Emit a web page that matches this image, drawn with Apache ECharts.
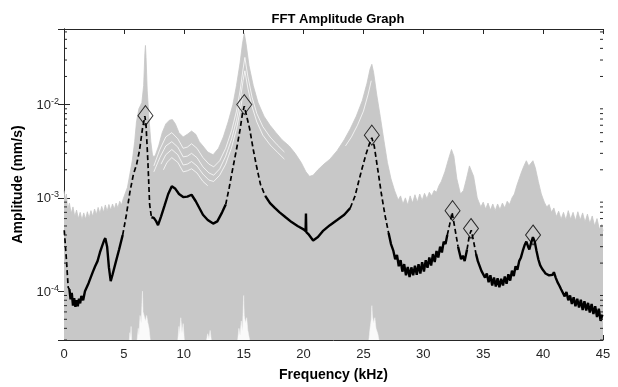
<!DOCTYPE html>
<html><head><meta charset="utf-8">
<script src="https://cdn.jsdelivr.net/npm/echarts@6/dist/echarts.min.js"></script>
<style>html,body{margin:0;padding:0;background:#fff}#c{width:618px;height:387px}</style>
</head><body><div id="c"></div>
<script>
// ---------- data ----------
var xTicks = [0,5,10,15,20,25,30,35,40,45];
// upper envelope of the grey bundle of traces
var envF = [0,0.1,0.2,0.3,0.45,0.6,0.75,0.9,1.05,1.2,1.35,1.5,1.65,1.8,1.95,2.1,2.25,2.4,2.55,2.7,2.85,3.0,3.15,3.3,3.45,3.6,3.75,3.9,4.05,4.2,4.35,4.5,4.65,4.8,4.95,5.1,5.3,5.5,5.7,5.9,6.05,6.25,6.5,6.65,6.75,6.8,6.85,6.95,7.1,7.25,7.4,7.6,7.9,8.2,8.5,8.8,9.05,9.3,9.6,9.95,10.3,10.65,11.0,11.3,11.6,12.0,12.45,12.9,13.3,13.7,14.1,14.4,14.7,14.9,15.05,15.2,15.45,15.8,16.2,16.7,17.2,17.7,18.2,18.8,19.3,19.8,20.2,20.5,20.8,21.2,21.7,22.2,22.8,23.4,23.9,24.4,24.9,25.3,25.55,25.7,25.85,26.1,26.4,26.7,27.0,27.3,27.6,27.9,28.1,28.3,28.5,28.7,28.9,29.1,29.3,29.5,29.7,29.9,30.1,30.3,30.5,30.7,30.9,31.1,31.3,31.5,31.8,32.1,32.35,32.55,32.8,33.1,33.35,33.6,33.85,34.0,34.2,34.5,34.8,35.0,35.2,35.4,35.6,35.8,36.0,36.2,36.4,36.6,36.8,37.0,37.2,37.4,37.6,37.8,38.0,38.2,38.4,38.6,38.8,38.95,39.15,39.35,39.6,39.85,40.1,40.3,40.5,40.7,40.9,41.1,41.3,41.5,41.7,41.9,42.1,42.3,42.5,42.7,42.9,43.1,43.3,43.5,43.7,43.9,44.1,44.3,44.5,44.7,44.9,45.0];
var envV = [1.2e-3,9.5e-4,1.1e-3,7.5e-4,8.8e-4,6.8e-4,8.0e-4,6.3e-4,7.4e-4,6.0e-4,7.0e-4,5.8e-4,6.9e-4,5.9e-4,7.1e-4,6.1e-4,7.3e-4,6.3e-4,7.6e-4,6.6e-4,7.9e-4,6.8e-4,8.1e-4,7.0e-4,8.4e-4,7.2e-4,8.5e-4,7.4e-4,8.6e-4,7.6e-4,8.8e-4,7.8e-4,9.2e-4,8.4e-4,9.8e-4,1.0e-3,1.3e-3,1.8e-3,2.5e-3,4.0e-3,6.5e-3,9.0e-3,1.05e-2,1.6e-2,3.5e-2,4.3e-2,3.2e-2,1.4e-2,7.0e-3,4.0e-3,2.8e-3,2.8e-3,3.6e-3,5.0e-3,6.2e-3,6.8e-3,6.9e-3,6.2e-3,5.0e-3,4.5e-3,4.8e-3,5.2e-3,4.8e-3,4.0e-3,3.6e-3,3.1e-3,2.9e-3,3.4e-3,4.5e-3,6.5e-3,1.0e-2,1.6e-2,2.8e-2,4.5e-2,5.8e-2,4.5e-2,2.6e-2,1.6e-2,1.05e-2,7.5e-3,6.0e-3,5.0e-3,4.2e-3,3.6e-3,3.0e-3,2.4e-3,1.9e-3,1.7e-3,1.75e-3,2.0e-3,2.3e-3,2.6e-3,3.2e-3,4.2e-3,5.5e-3,7.5e-3,1.1e-2,1.7e-2,2.4e-2,2.7e-2,2.2e-2,1.3e-2,7.5e-3,4.2e-3,2.4e-3,1.6e-3,1.2e-3,9.5e-4,1.05e-3,8.6e-4,1.0e-3,8.4e-4,1.05e-3,8.8e-4,1.08e-3,9.0e-4,1.1e-3,9.4e-4,1.12e-3,9.8e-4,1.15e-3,1.05e-3,1.2e-3,1.15e-3,1.35e-3,1.5e-3,1.9e-3,2.6e-3,3.3e-3,2.8e-3,1.6e-3,1.1e-3,1.2e-3,1.6e-3,2.2e-3,2.3e-3,1.7e-3,1.0e-3,8.0e-4,9.0e-4,7.6e-4,8.8e-4,7.4e-4,8.6e-4,7.3e-4,8.6e-4,7.5e-4,8.8e-4,7.8e-4,9.2e-4,8.5e-4,1.0e-3,1.1e-3,1.35e-3,1.6e-3,1.9e-3,2.2e-3,2.5e-3,2.2e-3,2.3e-3,2.5e-3,2.1e-3,1.5e-3,1.1e-3,9.0e-4,8.0e-4,8.5e-4,7.0e-4,7.8e-4,6.3e-4,7.2e-4,5.9e-4,7.0e-4,5.8e-4,7.3e-4,5.9e-4,7.0e-4,5.7e-4,7.1e-4,5.8e-4,6.9e-4,5.5e-4,6.7e-4,5.3e-4,6.4e-4,5.0e-4,6.0e-4,4.6e-4,5.2e-4,4.4e-4];

// light separations between individual traces inside the grey bundle (null = break)
var sepF = [7.5,8.0,8.5,9.0,9.5,9.95,10.3,10.65,11.1,11.6,12.1,12.5,13.0,13.5,14.0,14.4,14.7,14.95,15.1,15.35,15.7,16.1,16.6,17.2,17.8,18.4,null,
            7.5,8.0,8.5,9.0,9.5,9.95,10.3,10.65,11.1,11.6,12.1,12.5,13.0,13.5,14.0,14.4,14.7,14.95,15.1,15.35,15.7,16.1,16.6,17.2,17.8,18.4,null,
            8.1,8.5,9.0,9.5,9.95,10.3,10.65,11.1,11.6,12.1,12.5,13.0,13.5,14.0,14.4,14.7,14.95,null,
            8.3,8.6,9.0,9.5,9.95,10.3,10.65,11.1,11.6,12.0,null,
            23.5,24.0,24.5,25.0,25.4,25.65];
var sepV = [2.2e-3,3.3e-3,4.5e-3,5.0e-3,4.3e-3,3.4e-3,3.5e-3,3.8e-3,3.4e-3,2.7e-3,2.3e-3,2.15e-3,2.5e-3,3.4e-3,5.3e-3,8.5e-3,1.4e-2,2.4e-2,3.2e-2,2.0e-2,1.2e-2,8.0e-3,5.8e-3,4.5e-3,3.7e-3,3.1e-3,null,
            1.9e-3,2.7e-3,3.6e-3,4.0e-3,3.5e-3,2.75e-3,2.8e-3,3.0e-3,2.7e-3,2.15e-3,1.85e-3,1.75e-3,2.05e-3,2.8e-3,4.3e-3,6.8e-3,1.1e-2,1.8e-2,2.3e-2,1.5e-2,9.5e-3,6.5e-3,4.7e-3,3.7e-3,3.1e-3,2.6e-3,null,
            2.3e-3,2.9e-3,3.3e-3,2.9e-3,2.25e-3,2.3e-3,2.45e-3,2.2e-3,1.8e-3,1.55e-3,1.5e-3,1.75e-3,2.3e-3,3.5e-3,5.5e-3,8.5e-3,1.3e-2,null,
            2.0e-3,2.4e-3,2.7e-3,2.4e-3,1.9e-3,1.95e-3,2.05e-3,1.85e-3,1.5e-3,1.35e-3,null,
            3.6e-3,4.5e-3,6.0e-3,8.5e-3,1.3e-2,1.8e-2];

// white gaps at the bottom of the grey bundle (null = no gap)
var gapF = [5.45,5.5,5.55,5.6,5.65,null,6.1,6.2,6.25,6.35,6.45,6.5,6.55,6.6,6.7,6.8,6.9,7.0,7.1,7.2,null,9.5,9.6,9.65,9.75,9.85,9.95,10.05,null,11.9,12.0,12.1,12.2,12.3,null,14.5,14.6,14.7,14.8,14.9,14.95,15.0,15.05,15.15,15.25,15.35,15.5,null,25.45,25.55,25.65,25.7,25.75,25.85,25.95,26.05,26.2,26.3];
var gapV = [3.0e-5,3.6e-5,3.2e-5,4.2e-5,3.0e-5,null,3.0e-5,4.0e-5,3.4e-5,5.5e-5,4.6e-5,7.0e-5,1.0e-4,6.0e-5,5.4e-5,4.8e-5,5.5e-5,4.6e-5,4.0e-5,3.0e-5,null,3.0e-5,4.2e-5,3.5e-5,5.2e-5,3.6e-5,4.5e-5,3.0e-5,null,3.0e-5,3.5e-5,3.1e-5,3.8e-5,3.0e-5,null,3.0e-5,4.0e-5,3.4e-5,4.8e-5,3.8e-5,6.0e-5,9.0e-5,5.5e-5,4.6e-5,5.2e-5,3.8e-5,3.0e-5,null,3.0e-5,4.0e-5,5.0e-5,7.0e-5,5.4e-5,4.6e-5,5.2e-5,4.0e-5,3.5e-5,3.0e-5];

// black mean curve
var meanF = [0.02,0.2,0.35,0.45,0.55,0.65,0.75,0.85,0.95,1.05,1.15,1.25,1.35,1.45,1.6,1.75,1.9,2.05,2.2,2.4,2.6,2.8,3.0,3.2,3.35,3.45,3.6,3.75,3.9,4.05,4.3,4.6,4.9,5.2,5.5,5.8,6.05,6.3,6.55,6.75,6.85,7.0,7.15,7.3,7.5,7.7,7.85,8.1,8.4,8.7,9.0,9.3,9.6,9.95,10.3,10.65,11.0,11.3,11.6,12.0,12.45,12.8,13.2,13.5,13.8,14.1,14.4,14.7,14.9,15.05,15.2,15.5,15.8,16.1,16.4,16.8,17.2,17.6,18.0,18.5,19.0,19.5,20.0,20.17,20.2,20.23,20.4,20.8,21.2,21.6,22.2,22.8,23.4,23.9,24.3,24.6,24.9,25.2,25.5,25.7,25.9,26.2,26.5,26.8,27.1,27.3,27.5,27.65,27.8,27.95,28.1,28.25,28.4,28.55,28.7,28.85,29.0,29.15,29.3,29.45,29.6,29.75,29.9,30.05,30.2,30.35,30.5,30.65,30.8,30.95,31.1,31.25,31.4,31.55,31.7,31.85,32.0,32.2,32.4,32.6,32.9,33.15,33.3,33.45,33.65,33.85,34.0,34.2,34.4,34.55,34.7,34.85,35.0,35.15,35.3,35.45,35.6,35.75,35.9,36.05,36.2,36.35,36.5,36.65,36.8,36.95,37.1,37.25,37.4,37.55,37.7,37.85,38.0,38.15,38.3,38.45,38.6,38.75,38.85,39.0,39.15,39.3,39.45,39.6,39.75,39.9,40.05,40.2,40.35,40.5,40.65,40.8,40.9,41.05,41.2,41.35,41.5,41.65,41.8,41.95,42.1,42.25,42.4,42.55,42.7,42.85,43.0,43.15,43.3,43.45,43.6,43.75,43.9,44.05,44.2,44.35,44.5,44.65,44.8,44.95];
var meanV = [4.5e-4,2.2e-4,1.1e-4,1.05e-4,8.2e-5,9.6e-5,7.0e-5,8.4e-5,6.8e-5,8.0e-5,6.9e-5,8.3e-5,7.4e-5,8.9e-5,8.0e-5,1.0e-4,9.6e-5,1.22e-4,1.28e-4,1.6e-4,1.85e-4,2.1e-4,2.6e-4,3.1e-4,3.5e-4,3.7e-4,3.0e-4,1.8e-4,1.28e-4,1.5e-4,2.0e-4,2.8e-4,4.0e-4,6.5e-4,1.15e-3,1.8e-3,2.25e-3,3.2e-3,5.5e-3,7.5e-3,6.0e-3,2.5e-3,8.5e-4,6.2e-4,6.1e-4,5.6e-4,5.1e-4,6.3e-4,8.3e-4,1.1e-3,1.33e-3,1.25e-3,1.1e-3,1.02e-3,1.03e-3,1.08e-3,9.2e-4,7.8e-4,6.6e-4,5.8e-4,5.3e-4,5.6e-4,7.0e-4,8.5e-4,1.3e-3,2.1e-3,3.3e-3,5.4e-3,8.0e-3,9.6e-3,8.0e-3,5.5e-3,3.3e-3,2.1e-3,1.4e-3,1.05e-3,8.8e-4,7.8e-4,7.0e-4,6.2e-4,5.5e-4,5.0e-4,4.6e-4,4.4e-4,6.8e-4,4.3e-4,4.1e-4,3.5e-4,3.8e-4,4.4e-4,5.1e-4,5.8e-4,6.6e-4,7.8e-4,1.05e-3,1.5e-3,2.1e-3,2.9e-3,3.8e-3,4.4e-3,3.6e-3,2.0e-3,1.1e-3,6.5e-4,4.2e-4,3.2e-4,2.7e-4,2.2e-4,2.45e-4,1.85e-4,2.15e-4,1.62e-4,1.95e-4,1.48e-4,1.82e-4,1.42e-4,1.8e-4,1.48e-4,1.88e-4,1.5e-4,1.95e-4,1.55e-4,2.05e-4,1.62e-4,2.15e-4,1.78e-4,2.3e-4,1.88e-4,2.5e-4,2.05e-4,2.7e-4,2.3e-4,3.0e-4,2.6e-4,3.4e-4,3.2e-4,4.0e-4,5.2e-4,7.0e-4,5.0e-4,3.0e-4,2.2e-4,2.4e-4,2.1e-4,2.8e-4,4.0e-4,4.5e-4,3.4e-4,2.5e-4,2.1e-4,2.0e-4,1.65e-4,1.68e-4,1.4e-4,1.55e-4,1.25e-4,1.48e-4,1.15e-4,1.4e-4,1.12e-4,1.38e-4,1.1e-4,1.36e-4,1.15e-4,1.44e-4,1.2e-4,1.52e-4,1.3e-4,1.66e-4,1.45e-4,1.85e-4,1.7e-4,2.1e-4,2.3e-4,2.7e-4,3.1e-4,3.4e-4,3.0e-4,2.8e-4,3.3e-4,3.8e-4,3.4e-4,2.7e-4,2.2e-4,1.9e-4,1.75e-4,1.65e-4,1.55e-4,1.6e-4,1.48e-4,1.55e-4,1.5e-4,1.6e-4,1.4e-4,1.25e-4,1.15e-4,1.05e-4,1.0e-4,8.8e-5,9.8e-5,8.0e-5,9.0e-5,7.3e-5,8.6e-5,6.9e-5,8.3e-5,6.7e-5,8.1e-5,6.3e-5,7.8e-5,6.2e-5,7.5e-5,5.9e-5,7.3e-5,5.7e-5,6.9e-5,5.3e-5,6.5e-5,4.8e-5,5.6e-5];
// frequency spans where the black curve is drawn with separated dots (dashed look)
var dashedSpans = [[0,0.4],[4.95,7.2],[13.75,16.45],[24.2,26.9],[32.1,32.75],[33.7,34.25]];

// identified peaks (diamonds)
var peakF = [6.8,15.05,25.7,32.44,33.98,39.16];
var peakV = [7.6e-3,1.0e-2,4.7e-3,7.3e-4,4.7e-4,4.0e-4];

var yMin = 3e-5, yMax = 0.0645;

// ---------- build ----------
function pairs(f, v){ var o=[]; for (var i=0;i<f.length;i++){ o.push(f[i]===null?[null,null]:[f[i],v[i]]); } return o; }
function inDash(x){ for (var k=0;k<dashedSpans.length;k++){ if (x>=dashedSpans[k][0] && x<=dashedSpans[k][1]) return true; } return false; }
var solid=[], dashed=[];
for (var i=0;i<meanF.length;i++){
  var d = inDash(meanF[i]);
  var dn = d || (i>0 && inDash(meanF[i-1])) || (i<meanF.length-1 && inDash(meanF[i+1]));
  solid.push(d ? [meanF[i], null] : [meanF[i], meanV[i]]);
  dashed.push(dn ? [meanF[i], meanV[i]] : [meanF[i], null]);
}
var minorVals=[];
for (var e=-5;e<=-1;e++){ for (var m=2;m<=9;m++){ var v=m*Math.pow(10,e); if (v>yMin && v<yMax) minorVals.push(v);} }

var axisColor = '#262626';
var font = 'Liberation Sans, Arial, Helvetica, sans-serif';
var chart = echarts.init(document.getElementById('c'), null, {renderer:'canvas'});
function ylab(v){
  var ex = Math.log10(v), r = Math.round(ex);
  if (Math.abs(ex-r) > 1e-6) return '';
  return '{b|10}{s|' + r + '}';
}
chart.setOption({
  animation:false,
  backgroundColor:'#fff',
  title:{ text:'FFT Amplitude Graph', left:333, top:8, textAlign:'center',
    textStyle:{ fontFamily:font, fontSize:13, fontWeight:'bold', color:'#000' } },
  grid:{ left:64, right:15, top:29, bottom:45 },
  xAxis:[
    { type:'value', min:0, max:45, interval:5, position:'bottom',
      axisLine:{ lineStyle:{ color:axisColor, width:1 } },
      axisTick:{ inside:true, length:5, lineStyle:{ color:axisColor } },
      axisLabel:{ fontFamily:font, fontSize:13, color:axisColor, margin:8 },
      splitLine:{ show:false },
      name:'Frequency (kHz)', nameLocation:'middle', nameGap:28,
      nameTextStyle:{ fontFamily:font, fontSize:14, fontWeight:'bold', color:'#000' } },
    { type:'value', min:0, max:45, interval:5, position:'top',
      axisLine:{ lineStyle:{ color:axisColor, width:1 } },
      axisTick:{ inside:true, length:5, lineStyle:{ color:axisColor } },
      axisLabel:{ show:false }, splitLine:{ show:false } }
  ],
  yAxis:[
    { type:'log', logBase:10, min:yMin, max:yMax, position:'left',
      axisLine:{ show:true, lineStyle:{ color:axisColor, width:1 } },
      axisTick:{ show:true, inside:true, length:6, lineStyle:{ color:axisColor } },
      axisLabel:{ formatter:ylab, fontFamily:font, color:axisColor, margin:5,
        rich:{ b:{ fontFamily:font, fontSize:13, color:axisColor, verticalAlign:'bottom', lineHeight:15 },
               s:{ fontFamily:font, fontSize:9, color:axisColor, verticalAlign:'top', lineHeight:15, padding:[0,0,8,0] } } },
      splitLine:{ show:false },
      name:'Amplitude (mm/s)', nameLocation:'middle', nameGap:32, nameRotate:90,
      nameTextStyle:{ fontFamily:font, fontSize:14, fontWeight:'bold', color:'#000' } },
    { type:'log', logBase:10, min:yMin, max:yMax, position:'right',
      axisLine:{ show:true, lineStyle:{ color:axisColor, width:1 } },
      axisTick:{ show:true, inside:true, length:6, lineStyle:{ color:axisColor } },
      axisLabel:{ show:false }, splitLine:{ show:false } }
  ],
  series:[
    { type:'line', name:'traces', data:pairs(envF, envV), showSymbol:false, silent:true, z:1,
      lineStyle:{ color:'#c6c6c6', width:0.8 }, areaStyle:{ color:'#c8c8c8', origin:'start', opacity:1 } },
    { type:'line', name:'traceSeparations', data:pairs(sepF, sepV), showSymbol:false, silent:true, z:2, connectNulls:false,
      lineStyle:{ color:'rgba(255,255,255,0.75)', width:1 } },
    { type:'line', name:'gaps', data:pairs(gapF, gapV), showSymbol:false, silent:true, z:2, connectNulls:false,
      lineStyle:{ color:'#f4f4f4', width:0.5 }, areaStyle:{ color:'#fafafa', origin:'start', opacity:1 } },
    { type:'line', name:'mean', data:solid, showSymbol:false, silent:true, z:5, connectNulls:false,
      lineStyle:{ color:'#000', width:2.4 } },
    { type:'line', name:'meanDashed', data:dashed, showSymbol:false, silent:true, z:5, connectNulls:false,
      lineStyle:{ color:'#000', width:1.7, type:[5,3] } },
    { type:'scatter', name:'peaks', data:pairs(peakF, peakV), symbol:'diamond', symbolSize:[15,20], z:6, silent:true,
      itemStyle:{ color:'rgba(0,0,0,0)', borderColor:'#000', borderWidth:1 } },
    { type:'custom', name:'minorTicks', silent:true, z:7, clip:false,
      data:minorVals.map(function(v){ return [0, v]; }),
      renderItem:function(params, api){
        var v = api.value(1);
        var p0 = api.coord([0, v]), p1 = api.coord([45, v]);
        return { type:'group', children:[
          { type:'line', shape:{ x1:p0[0], y1:p0[1], x2:p0[0]+3, y2:p0[1] }, style:{ stroke:axisColor, lineWidth:1 } },
          { type:'line', shape:{ x1:p1[0], y1:p1[1], x2:p1[0]-3, y2:p1[1] }, style:{ stroke:axisColor, lineWidth:1 } }
        ]};
      } }
  ]
});
</script></body></html>
